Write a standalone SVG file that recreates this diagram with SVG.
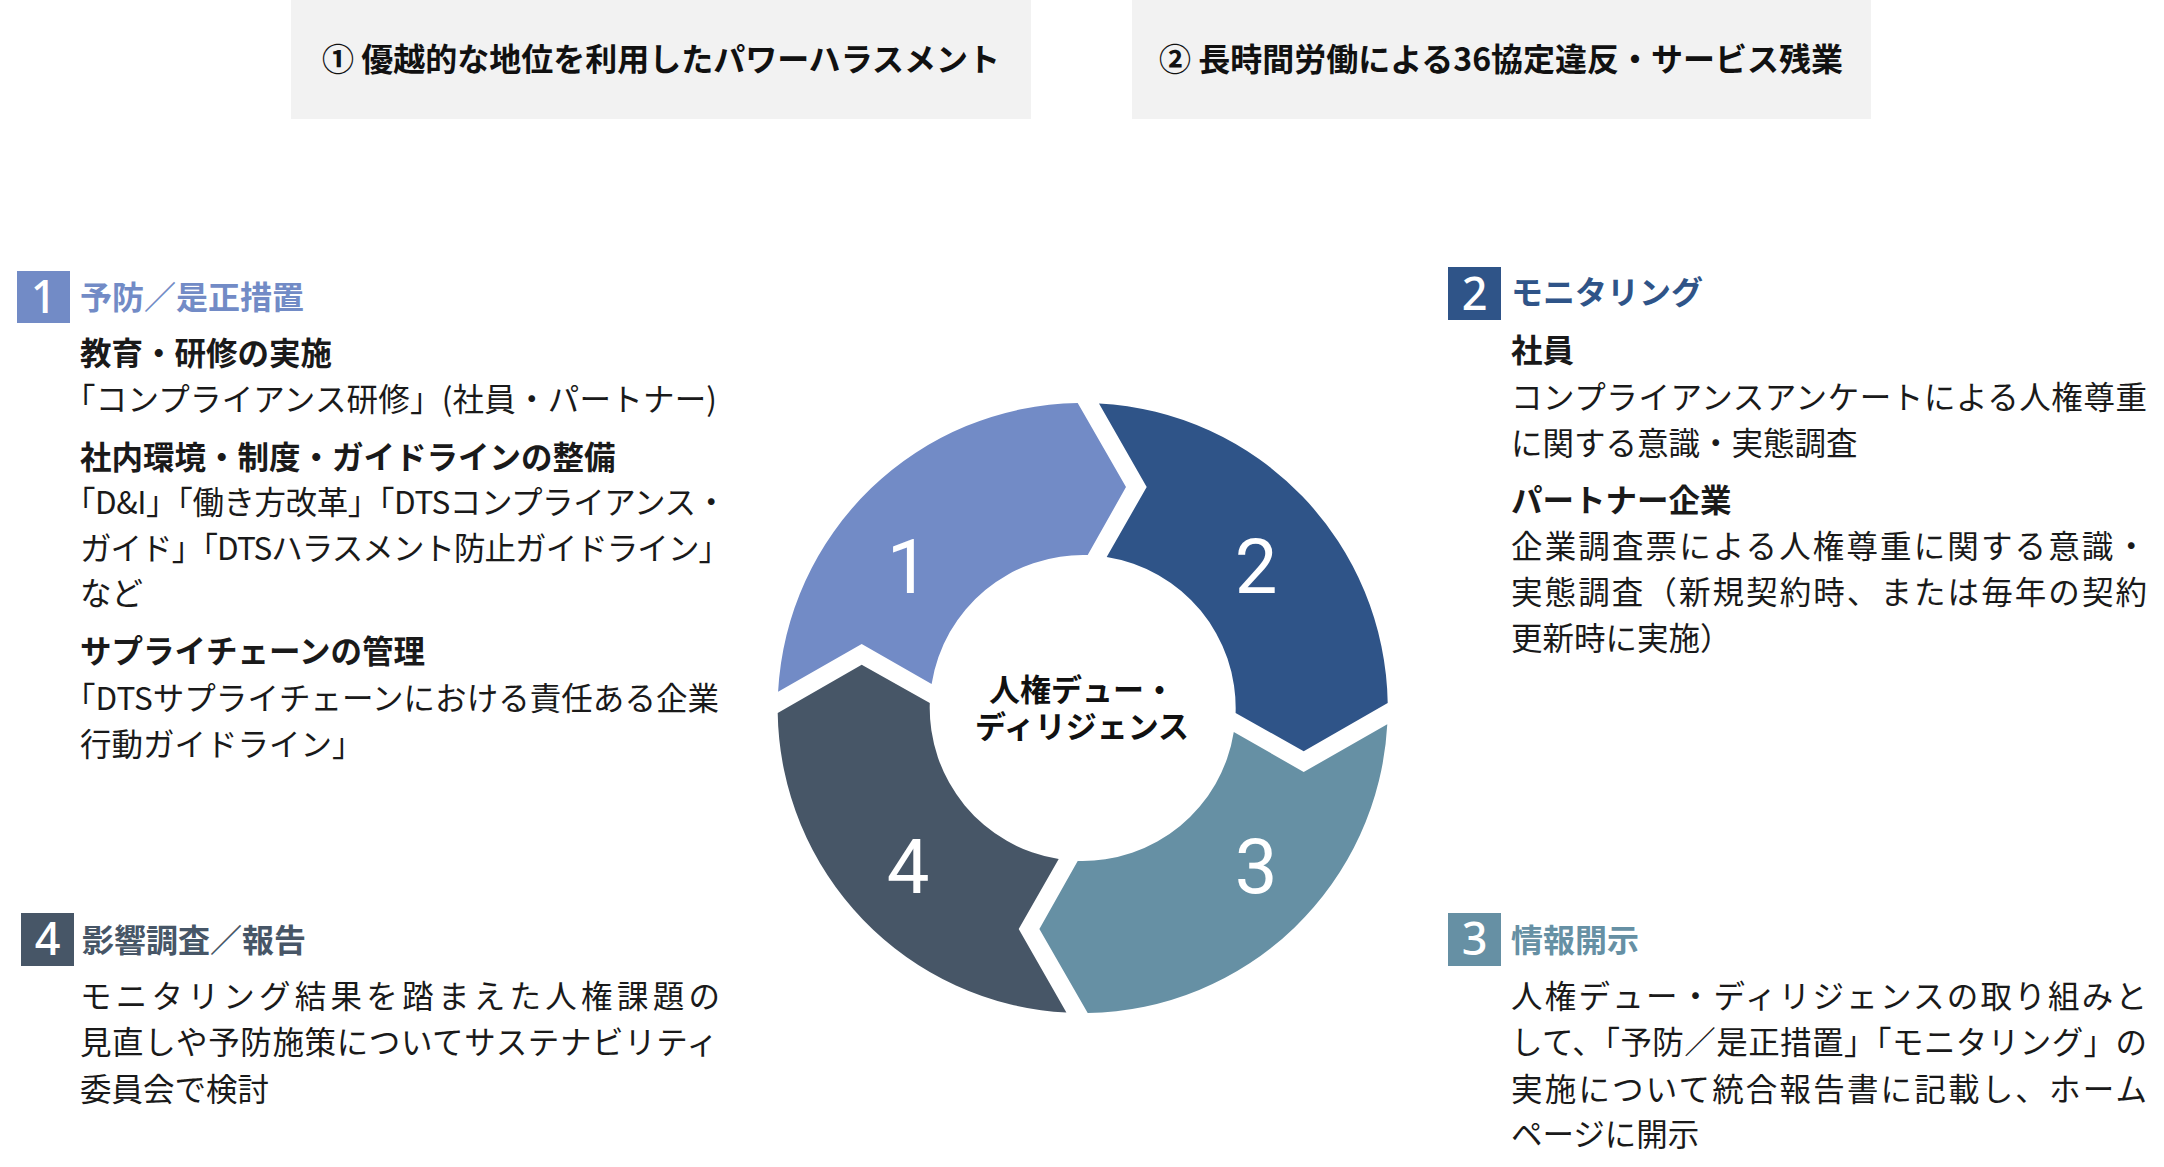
<svg xmlns="http://www.w3.org/2000/svg" width="2164" height="1167" viewBox="0 0 2164 1167">
<style>
text{font-family:"Noto Sans CJK JP","Noto Sans",sans-serif;}
.topbox{fill:#F2F2F2;}
.toptxt{font-size:32px;font-weight:700;fill:#111;text-anchor:middle;}
.hd{font-size:32px;font-weight:700;}
.sub{font-size:31.5px;font-weight:700;fill:#1a1a1a;}
.body{font-size:31.5px;font-weight:400;fill:#1a1a1a;}
.boxnum{font-family:"Noto Sans","Roboto",sans-serif;font-size:45px;font-weight:500;fill:#fff;text-anchor:middle;}
.segnum{font-family:"Roboto","Noto Sans",sans-serif;font-size:76px;font-weight:400;fill:#fff;text-anchor:middle;}
.center{font-size:31px;font-weight:700;fill:#111;text-anchor:middle;}
.c1{fill:#728BC6;}
.c2{fill:#2F5488;}
.c3{fill:#6690A4;}
.c4{fill:#475667;}
</style>
<defs>
<path id="seg" d="M-304.6,-16.3 A305,305 0 0 1 -5,-305 L43.3,-221 L5,-152.9 A153,153 0 0 0 -151.1,-24 L-221,-64 Z"/>
</defs>
<rect width="2164" height="1167" fill="#fff"/>

<g id="risk1">
<rect class="topbox" x="291" y="0" width="740" height="119"/>
<text class="toptxt" x="661" y="71">① 優越的な地位を利用したパワーハラスメント</text>
</g>
<g id="risk2">
<rect class="topbox" x="1132" y="0" width="739" height="119"/>
<text class="toptxt" x="1501" y="71">② 長時間労働による36協定違反・サービス残業</text>
</g>

<g id="cycle">
<g id="segment1">
<use href="#seg" class="c1" transform="translate(1082.7 708)"/>
<text class="segnum" x="908" y="593">1</text>
</g>
<g id="segment2">
<use href="#seg" class="c2" transform="translate(1082.7 708) rotate(90)"/>
<text class="segnum" x="1256" y="593">2</text>
</g>
<g id="segment3">
<use href="#seg" class="c3" transform="translate(1082.7 708) rotate(180)"/>
<text class="segnum" x="1256" y="893">3</text>
</g>
<g id="segment4">
<use href="#seg" class="c4" transform="translate(1082.7 708) rotate(270)"/>
<text class="segnum" x="908" y="893">4</text>
</g>
<g id="center-label">
<text class="center" x="1082" y="701"><tspan x="1082" y="701">人権デュー・</tspan><tspan x="1082" y="738">ディリジェンス</tspan></text>
</g>
</g>

<g id="section1">
<rect class="c1" x="17" y="271" width="53" height="52"/>
<text class="boxnum" x="43.5" y="313">1</text>
<text class="hd c1" x="80" y="309">予防／是正措置</text>
<text class="sub" x="80" y="365">教育・研修の実施</text>
<text class="body" x="64" y="411" textLength="653">「コンプライアンス研修」(社員・パートナー)</text>
<text class="sub" x="80" y="469">社内環境・制度・ガイドラインの整備</text>
<text class="body" x="64" y="514" textLength="663">「D&amp;I」「働き方改革」「DTSコンプライアンス・</text>
<text class="body" x="80" y="560" textLength="650">ガイド」「DTSハラスメント防止ガイドライン」</text>
<text class="body" x="80" y="605">など</text>
<text class="sub" x="80" y="663">サプライチェーンの管理</text>
<text class="body" x="64" y="710" textLength="655">「DTSサプライチェーンにおける責任ある企業</text>
<text class="body" x="80" y="756">行動ガイドライン」</text>
</g>

<g id="section2">
<rect class="c2" x="1448" y="267" width="53" height="53"/>
<text class="boxnum" x="1474.5" y="310">2</text>
<text class="hd c2" x="1511" y="304">モニタリング</text>
<text class="sub" x="1511" y="362">社員</text>
<text class="body" x="1511" y="409" textLength="636">コンプライアンスアンケートによる人権尊重</text>
<text class="body" x="1511" y="455">に関する意識・実態調査</text>
<text class="sub" x="1511" y="512">パートナー企業</text>
<text class="body" x="1511" y="558" textLength="636">企業調査票による人権尊重に関する意識・</text>
<text class="body" x="1511" y="604" textLength="636">実態調査（新規契約時、または毎年の契約</text>
<text class="body" x="1511" y="650">更新時に実施）</text>
</g>

<g id="section3">
<rect class="c3" x="1448" y="913" width="53" height="53"/>
<text class="boxnum" x="1474.5" y="955">3</text>
<text class="hd c3" x="1511" y="952">情報開示</text>
<text class="body" x="1511" y="1008" textLength="636">人権デュー・ディリジェンスの取り組みと</text>
<text class="body" x="1511" y="1054" textLength="636">して、「予防／是正措置」「モニタリング」の</text>
<text class="body" x="1511" y="1101" textLength="636">実施について統合報告書に記載し、ホーム</text>
<text class="body" x="1511" y="1146">ページに開示</text>
</g>

<g id="section4">
<rect class="c4" x="21" y="913" width="53" height="53"/>
<text class="boxnum" x="47.5" y="955">4</text>
<text class="hd c4" x="82" y="952">影響調査／報告</text>
<text class="body" x="80" y="1008" textLength="640">モニタリング結果を踏まえた人権課題の</text>
<text class="body" x="80" y="1054" textLength="638">見直しや予防施策についてサステナビリティ</text>
<text class="body" x="80" y="1101">委員会で検討</text>
</g>
</svg>
